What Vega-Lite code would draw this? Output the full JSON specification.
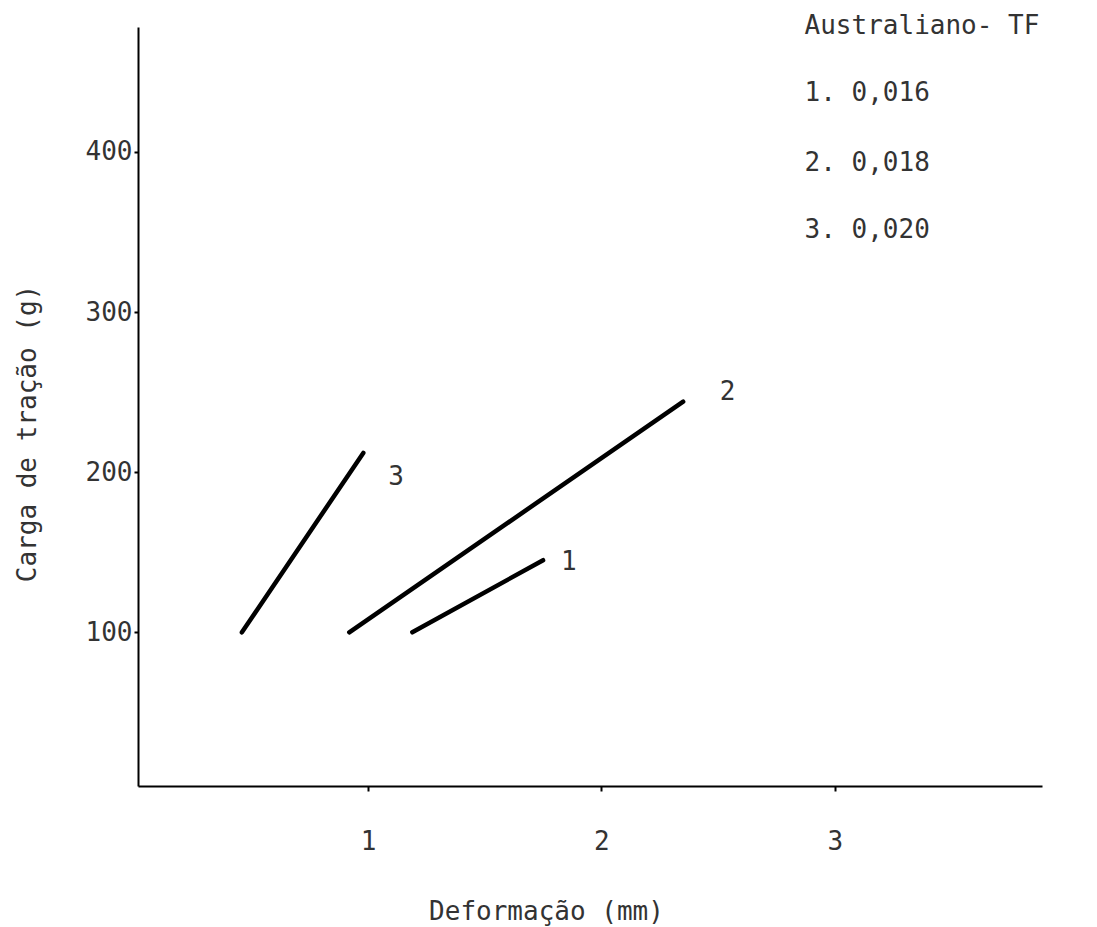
{
  "$schema": "https://vega.github.io/schema/vega-lite/v6.json",
  "width": 904,
  "height": 759,
  "autosize": "none",
  "padding": {"left": 138, "top": 27, "right": 55, "bottom": 141},
  "background": "white",
  "config": {
    "view": {"stroke": null},
    "font": "DejaVu Sans Mono",
    "axis": {
      "grid": false,
      "domainColor": "#000",
      "domainWidth": 2,
      "tickColor": "#000",
      "tickWidth": 2,
      "labelFont": "DejaVu Sans Mono",
      "labelFontSize": 26,
      "labelColor": "#333",
      "titleFont": "DejaVu Sans Mono",
      "titleFontSize": 26,
      "titleFontWeight": "normal",
      "titleColor": "#333"
    }
  },
  "datasets": {
    "lines": [
      {"serie": "1", "deformacao": 1.19, "carga": 100},
      {"serie": "1", "deformacao": 1.75, "carga": 145},
      {"serie": "2", "deformacao": 0.92, "carga": 100},
      {"serie": "2", "deformacao": 2.35, "carga": 244},
      {"serie": "3", "deformacao": 0.46, "carga": 100},
      {"serie": "3", "deformacao": 0.98, "carga": 212}
    ],
    "labels": [
      {"texto": "1", "deformacao": 1.86, "carga": 144},
      {"texto": "2", "deformacao": 2.54, "carga": 250},
      {"texto": "3", "deformacao": 1.12, "carga": 197}
    ],
    "legenda": [
      {"texto": "Australiano- TF", "deformacao": 2.87, "carga": 478.5},
      {"texto": "1. 0,016", "deformacao": 2.87, "carga": 437},
      {"texto": "2. 0,018", "deformacao": 2.87, "carga": 393},
      {"texto": "3. 0,020", "deformacao": 2.87, "carga": 351}
    ]
  },
  "layer": [
    {
      "data": {"name": "lines"},
      "mark": {"type": "line", "color": "#000", "strokeWidth": 4.5, "strokeCap": "round"},
      "encoding": {
        "x": {
          "field": "deformacao",
          "type": "quantitative",
          "scale": {"domain": [0.015, 3.887], "nice": false, "zero": false},
          "axis": {
            "values": [1, 2, 3],
            "format": "d",
            "tickSize": 5,
            "labelPadding": 37,
            "title": "Deformação (mm)",
            "titleX": 408,
            "titleY": 125,
            "titleBaseline": "middle",
            "titleAnchor": null,
            "titleAlign": "center"
          }
        },
        "y": {
          "field": "carga",
          "type": "quantitative",
          "scale": {"domain": [4, 478], "nice": false, "zero": false},
          "axis": {
            "values": [100, 200, 300, 400],
            "format": "d",
            "tickSize": 4,
            "labelPadding": 2,
            "title": "Carga de tração (g)",
            "titleX": -111,
            "titleY": 406,
            "titleBaseline": "middle",
            "titleAlign": "center",
            "titleAngle": -90
          }
        },
        "detail": {"field": "serie"}
      }
    },
    {
      "data": {"name": "labels"},
      "mark": {"type": "text", "fontSize": 26, "color": "#333", "align": "center", "baseline": "middle", "font": "DejaVu Sans Mono"},
      "encoding": {
        "x": {"field": "deformacao", "type": "quantitative"},
        "y": {"field": "carga", "type": "quantitative"},
        "text": {"field": "texto"}
      }
    },
    {
      "data": {"name": "legenda"},
      "mark": {"type": "text", "fontSize": 26, "color": "#333", "align": "left", "baseline": "middle", "font": "DejaVu Sans Mono"},
      "encoding": {
        "x": {"field": "deformacao", "type": "quantitative"},
        "y": {"field": "carga", "type": "quantitative"},
        "text": {"field": "texto"}
      }
    }
  ]
}
